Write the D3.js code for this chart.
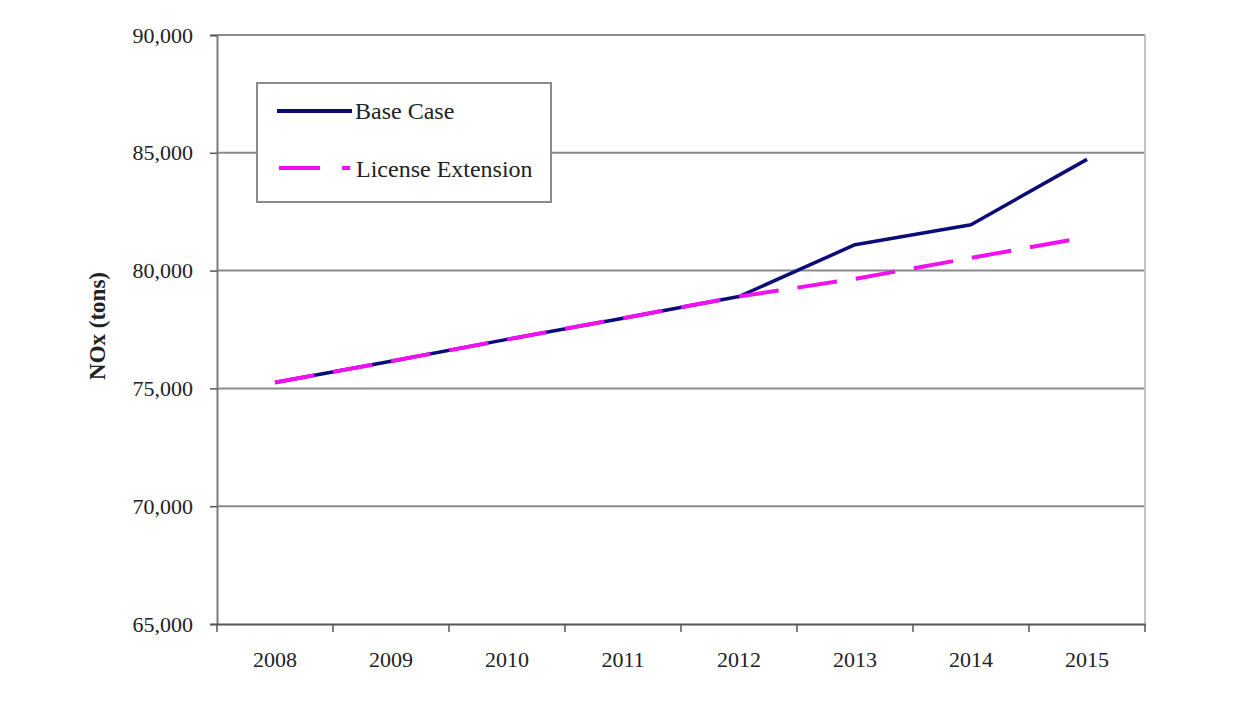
<!DOCTYPE html>
<html>
<head>
<meta charset="utf-8">
<script src="https://cdn.jsdelivr.net/npm/d3@7"></script>
<style>
  body { margin: 0; background: #fff; }
  text { font-family: 'Liberation Serif', 'Times New Roman', serif; fill: #222; }
</style>
</head>
<body>
<script>
// Data
const years = ['2008', '2009', '2010', '2011', '2012', '2013', '2014', '2015'];
const baseCase = [75250, 76150, 77080, 77980, 78900, 81100, 81950, 84720];
const licenseExtension = [75250, 76150, 77080, 77980, 78900, 79650, 80540, 81420];
const yTicks = [65000, 70000, 75000, 80000, 85000, 90000];

// SVG setup
const width = 1238;
const height = 707;
const plot = { left: 217, right: 1145, top: 35, bottom: 624 };

const svg = d3.select('body')
.append('svg')
.attr('width', width)
.attr('height', height);

// Scales
const xScale = d3.scaleBand()
.domain(years)
.range([plot.left, plot.right]);

const yScale = d3.scaleLinear()
.domain([65000, 90000])
.range([plot.bottom, plot.top]);

// Gridlines
svg.append('g')
.selectAll('line')
.data(yTicks.slice(1))
.enter()
.append('line')
.attr('x1', plot.left)
.attr('x2', plot.right)
.attr('y1', d => yScale(d))
.attr('y2', d => yScale(d))
.attr('stroke', '#8a8a8a')
.attr('stroke-width', 2);

// right border of plot area
svg.append('line')
.attr('x1', plot.right).attr('x2', plot.right)
.attr('y1', plot.top).attr('y2', plot.bottom)
.attr('stroke', '#c4c4c4')
.attr('stroke-width', 2);

// Y axis
const yAxis = svg.append('g')
.attr('transform', `translate(${plot.left},0)`)
.call(d3.axisLeft(yScale)
  .tickValues(yTicks)
  .tickSize(7)
  .tickPadding(17)
  .tickFormat(d3.format(',')));

yAxis.select('.domain').attr('stroke', '#7a7a7a').attr('stroke-width', 2);
yAxis.selectAll('.tick line').attr('stroke', '#555').attr('stroke-width', 1.5);
yAxis.selectAll('.tick text')
.attr('font-size', '22px')
.attr('font-family', 'Liberation Serif, serif')
.attr('fill', '#333');

// X axis (labels at band centres, ticks at band edges)
const xAxis = svg.append('g')
.attr('transform', `translate(0,${plot.bottom})`)
.call(d3.axisBottom(xScale).tickSize(0).tickPadding(27));

xAxis.select('.domain').attr('stroke', '#555').attr('stroke-width', 2);
xAxis.selectAll('.tick text')
.attr('font-size', '22px')
.attr('font-family', 'Liberation Serif, serif')
.attr('fill', '#333');

const edges = years.map(d => xScale(d)).concat([xScale(years[years.length - 1]) + xScale.bandwidth()]);
xAxis.selectAll('line.edge')
.data(edges)
.enter()
.append('line')
.attr('class', 'edge')
.attr('x1', d => d).attr('x2', d => d)
.attr('y1', 0).attr('y2', 8)
.attr('stroke', '#555')
.attr('stroke-width', 1.5);

// Axis title
svg.append('text')
.attr('transform', 'translate(105,326) rotate(-90)')
.attr('text-anchor', 'middle')
.attr('font-size', '23px')
.attr('font-weight', 'bold')
.attr('fill', '#222')
.text('NOx (tons)');

// Lines
const line = d3.line()
.x((d, i) => xScale(years[i]) + xScale.bandwidth() / 2)
.y(d => yScale(d));

svg.append('path')
.datum(baseCase)
.attr('d', line)
.attr('fill', 'none')
.attr('stroke', '#0c0c78')
.attr('stroke-width', 3.5)
.attr('stroke-linejoin', 'round');

svg.append('path')
.datum(licenseExtension)
.attr('d', line)
.attr('fill', 'none')
.attr('stroke', '#f010f0')
.attr('stroke-width', 4)
.attr('stroke-dasharray', '40,19');

// Legend
const legend = svg.append('g');

legend.append('rect')
.attr('x', 257)
.attr('y', 83)
.attr('width', 294)
.attr('height', 119)
.attr('fill', '#fff')
.attr('stroke', '#8a8a8a')
.attr('stroke-width', 2);

legend.append('line')
.attr('x1', 277).attr('x2', 352)
.attr('y1', 111).attr('y2', 111)
.attr('stroke', '#0c0c78')
.attr('stroke-width', 4);

legend.append('text')
.attr('x', 355)
.attr('y', 119)
.attr('font-size', '24px')
.text('Base Case');

legend.append('line')
.attr('x1', 279).attr('x2', 350)
.attr('y1', 168).attr('y2', 168)
.attr('stroke', '#f010f0')
.attr('stroke-width', 4)
.attr('stroke-dasharray', '41,22');

legend.append('text')
.attr('x', 356)
.attr('y', 177)
.attr('font-size', '24px')
.text('License Extension');
</script>
</body>
</html>
